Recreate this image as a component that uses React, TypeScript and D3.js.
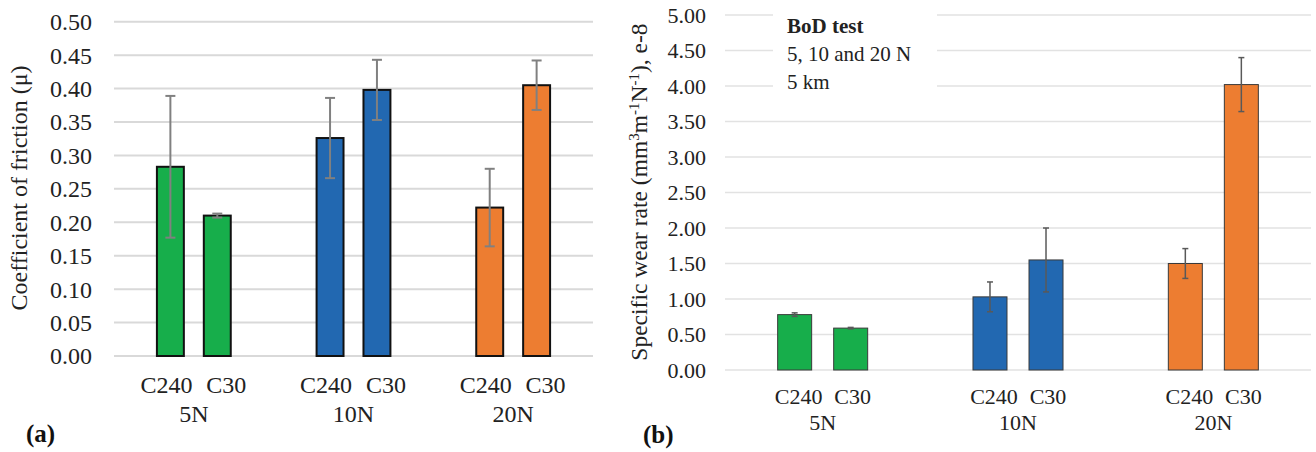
import { useMemo } from "react";
import * as d3 from "d3";

const W = 1316;
const H = 452;

// categories
const loads = ["5N", "10N", "20N"];
const samples = ["C240", "C30"];
const loadColors = ["#17ae4b", "#2268b1", "#ed7d31"];

// (a) coefficient of friction, mean and error per sample
const cofC240 = [0.283, 0.326, 0.222];
const cofC240Err = [0.106, 0.06, 0.058];
const cofC30 = [0.21, 0.398, 0.405];
const cofC30Err = [0.003, 0.045, 0.037];
const cofTicks = [0, 0.05, 0.1, 0.15, 0.2, 0.25, 0.3, 0.35, 0.4, 0.45, 0.5];

// (b) specific wear rate, e-8
const wearC240 = [0.78, 1.03, 1.5];
const wearC240Err = [0.025, 0.21, 0.21];
const wearC30 = [0.59, 1.55, 4.02];
const wearC30Err = [0.01, 0.45, 0.38];
const wearTicks = [0, 0.5, 1, 1.5, 2, 2.5, 3, 3.5, 4, 4.5, 5];

const noteLines = ["BoD test", "5, 10 and 20 N", "5 km"];

const FONT = "'Liberation Serif', 'Times New Roman', serif";

type PanelProps = {
  left: number;
  right: number;
  top: number;
  bottom: number;
  yMax: number;
  ticks: number[];
  c240: number[];
  c240Err: number[];
  c30: number[];
  c30Err: number[];
  innerPadding: number;
  outerPadding: number;
  fontSize: number;
  tickRight: number;
  labelShift: number[];
  sampleBaseline: number;
  loadBaseline: number;
  barStroke: string;
  barStrokeWidth: number;
  errColor: string;
  errWidth: number;
  capHalf: number;
  gridColor: string;
  gridWidth: number;
};

const Panel = (p: PanelProps) => {
  const xScale = useMemo(
    () => d3.scaleBand().domain(loads).range([p.left, p.right]).padding(0),
    [p.left, p.right]
  );
  const inner = useMemo(
    () =>
      d3
        .scaleBand()
        .domain(samples)
        .range([0, xScale.bandwidth()])
        .paddingInner(p.innerPadding)
        .paddingOuter(p.outerPadding),
    [xScale]
  );
  const yScale = d3.scaleLinear().domain([0, p.yMax]).range([p.bottom, p.top]);

  const rows = loads.flatMap((load, i) => [
    { load, sample: "C240", value: p.c240[i], err: p.c240Err[i], color: loadColors[i] },
    { load, sample: "C30", value: p.c30[i], err: p.c30Err[i], color: loadColors[i] },
  ]);

  return (
    <g>
      {p.ticks.map((t) => (
        <g key={t}>
          <line
            x1={p.left}
            x2={p.right}
            y1={yScale(t)}
            y2={yScale(t)}
            stroke={p.gridColor}
            strokeWidth={p.gridWidth}
          />
          <text
            x={p.tickRight}
            y={yScale(t)}
            dy="0.35em"
            textAnchor="end"
            fontSize={p.fontSize}
            fill="#222"
          >
            {d3.format(".2f")(t)}
          </text>
        </g>
      ))}
      {rows.map((d, i) => {
        const x = (xScale(d.load) ?? 0) + (inner(d.sample) ?? 0);
        const cx = x + inner.bandwidth() / 2;
        return (
          <g key={i}>
            <rect
              x={x}
              y={yScale(d.value)}
              width={inner.bandwidth()}
              height={yScale(0) - yScale(d.value)}
              fill={d.color}
              stroke={p.barStroke}
              strokeWidth={p.barStrokeWidth}
            />
            <g stroke={p.errColor} strokeWidth={p.errWidth}>
              <line x1={cx} x2={cx} y1={yScale(d.value + d.err)} y2={yScale(d.value - d.err)} />
              <line
                x1={cx - p.capHalf}
                x2={cx + p.capHalf}
                y1={yScale(d.value + d.err)}
                y2={yScale(d.value + d.err)}
              />
              <line
                x1={cx - p.capHalf}
                x2={cx + p.capHalf}
                y1={yScale(d.value - d.err)}
                y2={yScale(d.value - d.err)}
              />
            </g>
            <text
              x={cx + p.labelShift[d.sample === "C240" ? 0 : 1]}
              y={p.sampleBaseline}
              textAnchor="middle"
              fontSize={p.fontSize}
              fill="#222"
            >
              {d.sample}
            </text>
          </g>
        );
      })}
      {loads.map((load) => (
        <text
          key={load}
          x={(xScale(load) ?? 0) + xScale.bandwidth() / 2}
          y={p.loadBaseline}
          textAnchor="middle"
          fontSize={p.fontSize}
          fill="#222"
        >
          {load}
        </text>
      ))}
    </g>
  );
};

export default function App() {
  return (
    <svg
      width={W}
      height={H}
      style={{ position: "absolute", left: 0, top: 0, background: "#fff" }}
      fontFamily={FONT}
    >
      <rect width={W} height={H} fill="#fff" />

      {/* (a) coefficient of friction */}
      <Panel
        left={114}
        right={593}
        top={21.7}
        bottom={356}
        yMax={0.5}
        ticks={cofTicks}
        c240={cofC240}
        c240Err={cofC240Err}
        c30={cofC30}
        c30Err={cofC30Err}
        innerPadding={0.4255}
        outerPadding={0.915}
        fontSize={24}
        tickRight={92}
        labelShift={[-4, 9]}
        sampleBaseline={393}
        loadBaseline={422}
        barStroke="#111"
        barStrokeWidth={2}
        errColor="#808080"
        errWidth={2}
        capHalf={5}
        gridColor="#d9d9d9"
        gridWidth={2}
      />
      <text
        transform="translate(27,188) rotate(-90)"
        textAnchor="middle"
        fontSize={24}
        fill="#222"
      >
        Coefficient of friction (μ)
      </text>
      <text x={26} y={442} fontSize={25} fontWeight="bold" fill="#111">
        (a)
      </text>

      {/* (b) specific wear rate */}
      <Panel
        left={725}
        right={1311}
        top={15}
        bottom={370}
        yMax={5}
        ticks={wearTicks}
        c240={wearC240}
        c240Err={wearC240Err}
        c30={wearC30}
        c30Err={wearC30Err}
        innerPadding={0.393}
        outerPadding={0.94}
        fontSize={22}
        tickRight={706}
        labelShift={[4, 2]}
        sampleBaseline={404}
        loadBaseline={430}
        barStroke="#3a3a3a"
        barStrokeWidth={1}
        errColor="#595959"
        errWidth={1.5}
        capHalf={3}
        gridColor="#e2e2e2"
        gridWidth={1.5}
      />
      <rect x={773} y={0} width={164} height={100} fill="#fff" />
      {noteLines.map((line, i) => (
        <text
          key={line}
          x={787}
          y={33 + i * 28}
          fontSize={21}
          fontWeight={i === 0 ? "bold" : "normal"}
          fill="#222"
        >
          {line}
        </text>
      ))}
      <text
        transform="translate(647,192) rotate(-90)"
        textAnchor="middle"
        fontSize={23.5}
        fill="#222"
      >
        Specific wear rate (mm
        <tspan baselineShift="super" fontSize={15}>3</tspan>
        m
        <tspan baselineShift="super" fontSize={15}>-1</tspan>
        N
        <tspan baselineShift="super" fontSize={15}>-1</tspan>
        ), e-8
      </text>
      <text x={643} y={443} fontSize={25} fontWeight="bold" fill="#111">
        (b)
      </text>
    </svg>
  );
}
